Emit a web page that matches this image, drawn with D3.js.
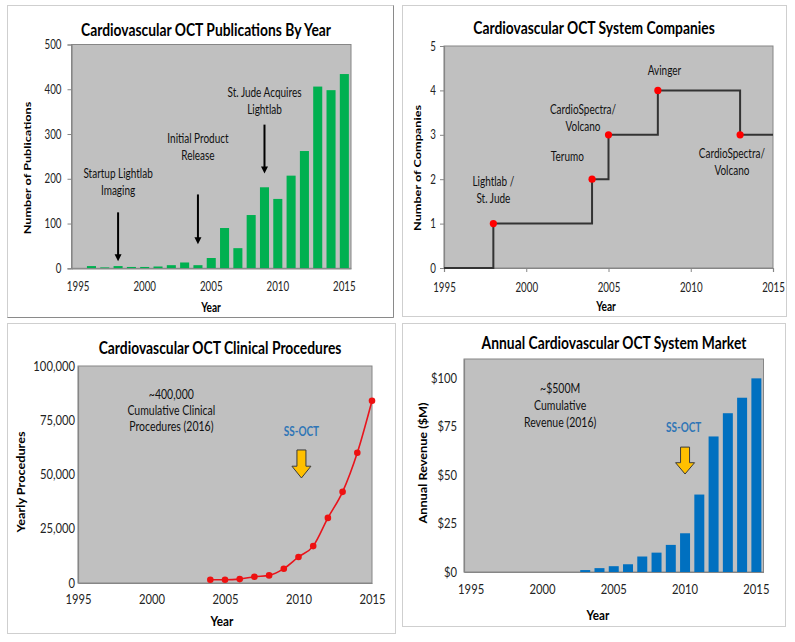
<!DOCTYPE html>
<html><head><meta charset="utf-8">
<script src="https://cdn.jsdelivr.net/npm/d3@7"></script>
<style>
body{margin:0;background:#fff}
svg{display:block}
</style></head><body>
<svg id="c" width="795" height="642"></svg>
<script>
// ---------- DATA ----------
const allYears = ["1995","1996","1997","1998","1999","2000","2001","2002","2003","2004","2005","2006","2007","2008","2009","2010","2011","2012","2013","2014","2015"];
const tickYears = ["1995","2000","2005","2010","2015"];
const tickYearNums = [1995,2000,2005,2010,2015];

// Panel 1: publications
const pubYears = ["1996","1997","1998","1999","2000","2001","2002","2003","2004","2005","2006","2007","2008","2009","2010","2011","2012","2013","2014","2015"];
const pubCounts = [5,2,5,3,3,4,7,13,7,23,90,45,119,181,155,207,262,406,398,434];
const pubTicks = [0,100,200,300,400,500];
const pubNoteLines = [["Startup Lightlab","Imaging"],["Initial Product","Release"],["St. Jude Acquires","Lightlab"]];
const pubNoteYears = [1998,2004,2009];
const pubNoteValues = [212,290,393];
const pubArrowYears = ["1998","2004","2009"];
const pubArrowFrom = [125,165,321];
const pubArrowTo = [16,54,212];

// Panel 2: companies (step)
const stepYears = [1995,1998,2004,2005,2008,2013,2015];
const stepCounts = [0,1,2,3,4,3,3];
const compPointYears = [1998,2004,2005,2008,2013];
const compPointCounts = [1,2,3,4,3];
const compTicks = [0,1,2,3,4,5];
const compLabelLines = [["Lightlab /","St. Jude"],["Terumo"],["CardioSpectra/","Volcano"],["Avinger"],["CardioSpectra/","Volcano"]];
const compLabelYears = [1998,2002.5,2003.45,2008.4,2012.5];
const compLabelValues = [1.94,2.5,3.56,4.44,2.57];

// Panel 3: procedures
const procYears = [2004,2005,2006,2007,2008,2009,2010,2011,2012,2013,2014,2015];
const procValues = [1500,1500,1800,2900,3500,6600,12000,17000,30000,42000,60000,84000];
const procTicks = [0,25000,50000,75000,100000];
const procNoteLines = ["~400,000","Cumulative Clinical","Procedures (2016)"];

// Panel 4: revenue
const revYears = ["2003","2004","2005","2006","2007","2008","2009","2010","2011","2012","2013","2014","2015"];
const revValues = [1,2,3,4,8,10,14,20,40,70,82,90,100];
const revTicks = [0,25,50,75,100];
const revNoteLines = ["~$500M","Cumulative","Revenue (2016)"];

// ---------- STYLE ----------
const FONT = "Lato,'Noto Sans',sans-serif";
const SX_TOP = 0.78, SX_BOT = 0.9, SX_TITLE = 0.815, SX_NOTE_TOP = 0.8, SX_NOTE_BOT = 0.84;
const PLOTFILL = "#c0c0c0";
const AXIS = "#868686";
const svg = d3.select("#c");

function panelBox(x,y,w,h,dark){
  svg.append("rect").attr("x",x+0.5).attr("y",y+0.5).attr("width",w).attr("height",h)
    .attr("fill","#fff").attr("stroke","#cfcfcf");
  if(dark){
    svg.append("path").attr("d",`M${x+w+0.5},${y+0.5}V${y+h+0.5}H${x+0.5}`).attr("fill","none").attr("stroke","#8a8a8a");
  }
}
function plotRect(l,t,r,b){
  svg.append("rect").attr("x",l).attr("y",t).attr("width",r-l).attr("height",b-t)
    .attr("fill",PLOTFILL).attr("stroke",AXIS).attr("stroke-width",1);
}
function styleAxis(g,left,sx){
  g.selectAll(".domain").attr("stroke",AXIS).attr("stroke-width",1.2);
  g.selectAll(".tick line").attr("stroke",AXIS);
  const tx = g.selectAll("text").attr("font-family",FONT).attr("font-size",12.5).attr("fill","#222")
    .attr("transform",`scale(${sx},1)`);
  if(left) tx.attr("x",function(){return (+this.getAttribute("x"))/sx;});
}
function htext(cx,cy,txt,size,bold,fill,sx){
  const t = svg.append("text").attr("transform",`translate(${cx},${cy}) scale(${sx},1)`)
    .attr("text-anchor","middle").attr("dy","0.35em")
    .attr("font-family",FONT).attr("font-size",size).attr("fill",fill||"#000").text(txt);
  if(bold) t.attr("font-weight","bold");
  return t;
}
function title(txt,cx,cy){ htext(cx,cy,txt,17,true,"#000",SX_TITLE); }
function xTitle(cx,cy,sx){ htext(cx,cy,"Year",13,true,"#000",sx); }
function yTitle(txt,cx,cy,sx){
  svg.append("text").attr("transform",`translate(${cx},${cy}) rotate(-90) scale(1,${sx})`).attr("text-anchor","middle").attr("dy","0.35em")
    .attr("font-family",FONT).attr("font-weight","bold").attr("font-size",12.7).attr("fill","#000").text(txt);
}
function multiText(lines,cx,cy,lh,sx,opts){
  const t = svg.append("text").attr("transform",`translate(${cx},${cy}) scale(${sx},1)`).attr("text-anchor","middle")
    .attr("font-family",FONT).attr("font-size",(opts&&opts.size)||12.5).attr("fill",(opts&&opts.fill)||"#111");
  if(opts&&opts.bold) t.attr("font-weight","bold");
  lines.forEach((s,i)=>t.append("tspan").attr("x",0).attr("y",i*lh).attr("dy","0.35em").text(s));
}
function yellowArrow(cx,top,bot){
  const hy = top + (bot-top)*0.58;
  svg.append("path").attr("d",`M${cx-4.5},${top}H${cx+4.5}V${hy}H${cx+9.5}L${cx},${bot}L${cx-9.5},${hy}H${cx-4.5}Z`)
    .attr("fill","#ffc000").attr("stroke","#3a3a3a").attr("stroke-width",1);
}
function blackArrow(x,y1,y2){
  svg.append("line").attr("x1",x).attr("x2",x).attr("y1",y1).attr("y2",y2-6).attr("stroke","#000").attr("stroke-width",2);
  svg.append("path").attr("d",`M${x-3.5},${y2-7}L${x+3.5},${y2-7}L${x},${y2}Z`).attr("fill","#000");
}

// ---------- PANEL 1 ----------
panelBox(7,5,386,312,true);
{
  const l=71.5,t=44.5,r=351,b=268.3;
  plotRect(l,t,r,b);
  const x = d3.scaleBand().domain(allYears).range([l,r]).paddingInner(0.32).paddingOuter(0.16);
  const xl = d3.scaleLinear().domain([1994.5,2015.5]).range([l,r]);
  const y = d3.scaleLinear().domain([0,500]).range([b,t]);
  svg.append("g").selectAll("rect").data(pubYears).join("rect")
    .attr("x",d=>x(d)).attr("width",x.bandwidth())
    .attr("y",(d,i)=>y(pubCounts[i])).attr("height",(d,i)=>b-y(pubCounts[i]))
    .attr("fill","#00b050");
  const gy = svg.append("g").attr("transform",`translate(${l},0)`).call(d3.axisLeft(y).tickValues(pubTicks).tickSize(4).tickPadding(6));
  styleAxis(gy,true,SX_TOP);
  const gx = svg.append("g").attr("transform",`translate(0,${b})`).call(d3.axisBottom(x).tickValues(tickYears).tickSize(0).tickPadding(14));
  styleAxis(gx,false,SX_TOP);
  pubNoteLines.forEach((lines,i)=>multiText(lines,xl(pubNoteYears[i]),y(pubNoteValues[i]),17,SX_NOTE_TOP));
  pubArrowYears.forEach((yr,i)=>blackArrow(x(yr)+x.bandwidth()/2,y(pubArrowFrom[i]),y(pubArrowTo[i])));
  title("Cardiovascular OCT Publications By Year",206,30);
  yTitle("Number of Publications",28,168,SX_TOP);
  xTitle(211,307,SX_TOP);
}

// ---------- PANEL 2 ----------
panelBox(402,5,384,311,false);
{
  const l=444,t=46,r=773,b=268;
  plotRect(l,t,r,b);
  const x = d3.scaleLinear().domain([1995,2015]).range([l,r]);
  const y = d3.scaleLinear().domain([0,5]).range([b,t]);
  const gy = svg.append("g").attr("transform",`translate(${l},0)`).call(d3.axisLeft(y).tickValues(compTicks).tickFormat(d3.format("d")).tickSize(4).tickPadding(4));
  styleAxis(gy,true,SX_TOP);
  const gx = svg.append("g").attr("transform",`translate(0,${b})`).call(d3.axisBottom(x).tickValues(tickYearNums).tickFormat(d3.format("d")).tickSize(4).tickPadding(11));
  styleAxis(gx,false,SX_TOP);
  const line = d3.line().x(d=>x(d[0])).y(d=>y(d[1])).curve(d3.curveStepAfter);
  svg.append("path").datum(stepYears.map((yr,i)=>[yr,stepCounts[i]])).attr("d",line)
    .attr("fill","none").attr("stroke","#333").attr("stroke-width",2);
  svg.append("g").selectAll("circle").data(compPointYears).join("circle")
    .attr("cx",d=>x(d)).attr("cy",(d,i)=>y(compPointCounts[i])).attr("r",3.6).attr("fill","#ff0000");
  compLabelLines.forEach((lines,i)=>multiText(lines,x(compLabelYears[i]),y(compLabelValues[i]),16.5,SX_NOTE_TOP));
  title("Cardiovascular OCT System Companies",594,28);
  yTitle("Number of Companies",418,168,SX_TOP);
  xTitle(606,306,SX_TOP);
}

// ---------- PANEL 3 ----------
panelBox(7,323,388,310,false);
{
  const l=78,t=366,r=372,b=583;
  plotRect(l,t,r,b);
  const x = d3.scaleLinear().domain([1995,2015]).range([l,r]);
  const y = d3.scaleLinear().domain([0,100000]).range([b,t]);
  const gy = svg.append("g").attr("transform",`translate(${l},0)`).call(d3.axisLeft(y).tickValues(procTicks).tickFormat(d3.format(",")).tickSize(0).tickPadding(3));
  styleAxis(gy,true,SX_BOT);
  const gx = svg.append("g").attr("transform",`translate(0,${b})`).call(d3.axisBottom(x).tickValues(tickYearNums).tickFormat(d3.format("d")).tickSize(0).tickPadding(12));
  styleAxis(gx,false,SX_BOT);
  const line = d3.line().x((d,i)=>x(d)).y((d,i)=>y(procValues[i])).curve(d3.curveMonotoneX);
  svg.append("path").datum(procYears).attr("d",line).attr("fill","none").attr("stroke","#e8141c").attr("stroke-width",1.6);
  svg.append("g").selectAll("circle").data(procYears).join("circle")
    .attr("cx",d=>x(d)).attr("cy",(d,i)=>y(procValues[i])).attr("r",3.3).attr("fill","#ee1111");
  multiText(procNoteLines,x(2001.35),y(86600),16,SX_NOTE_BOT);
  multiText(["SS-OCT"],x(2010.2),y(69600),16,SX_NOTE_TOP,{bold:true,fill:"#2e75b6",size:12.5});
  yellowArrow(x(2010.2),y(61300),y(48400));
  title("Cardiovascular OCT Clinical Procedures",220,348);
  yTitle("Yearly Procedures",21,482,SX_BOT);
  xTitle(222,621,SX_BOT);
}

// ---------- PANEL 4 ----------
panelBox(402,323,383,303,false);
{
  const l=464,t=359,r=763.5,b=572;
  plotRect(l,t,r,b);
  const x = d3.scaleBand().domain(allYears).range([l,r]).paddingInner(0.3).paddingOuter(0.15);
  const xl = d3.scaleLinear().domain([1994.5,2015.5]).range([l,r]);
  const y = d3.scaleLinear().domain([0,110]).range([b,t]);
  svg.append("g").selectAll("rect").data(revYears).join("rect")
    .attr("x",d=>x(d)).attr("width",x.bandwidth())
    .attr("y",(d,i)=>y(revValues[i])).attr("height",(d,i)=>b-y(revValues[i]))
    .attr("fill","#0070c0");
  const gy = svg.append("g").attr("transform",`translate(${l},0)`).call(d3.axisLeft(y).tickValues(revTicks).tickFormat(d=>"$"+d).tickSize(0).tickPadding(7));
  styleAxis(gy,true,SX_BOT);
  const gx = svg.append("g").attr("transform",`translate(0,${b})`).call(d3.axisBottom(x).tickValues(tickYears).tickSize(0).tickPadding(13));
  styleAxis(gx,false,SX_BOT);
  multiText(revNoteLines,xl(2001.24),y(94.5),17,SX_NOTE_BOT);
  multiText(["SS-OCT"],xl(2009.9),y(74.4),16,SX_NOTE_TOP,{bold:true,fill:"#2e75b6",size:12.5});
  yellowArrow(xl(2010),y(64.5),y(50.6));
  title("Annual Cardiovascular OCT System Market",614,343);
  yTitle("Annual Revenue ($M)",423,463,SX_BOT);
  xTitle(598,615,SX_BOT);
}
</script>
</body></html>
